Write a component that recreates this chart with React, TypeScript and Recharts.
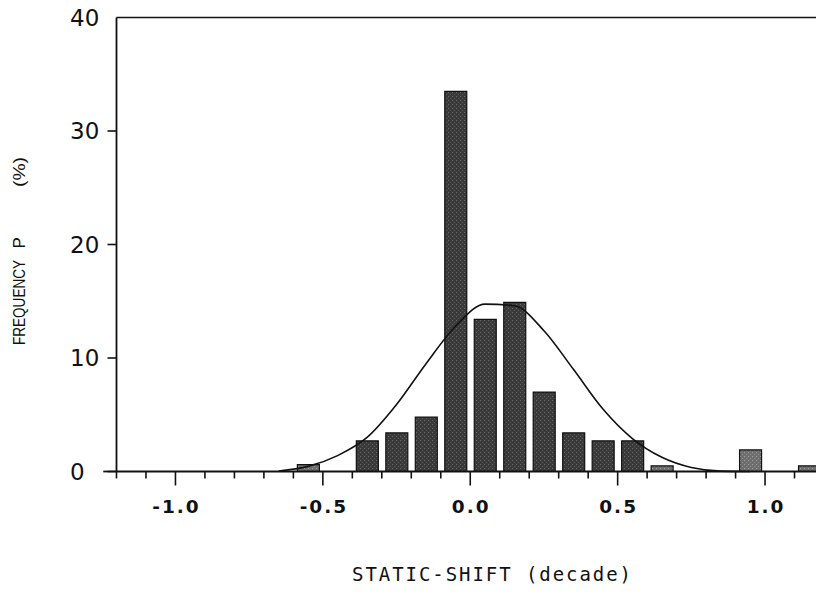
import React from 'react';
import {
  ComposedChart,
  Bar,
  Line,
  XAxis,
  YAxis,
  ReferenceLine,
  Cell,
  Customized,
} from 'recharts';

// bin centres (decade) and measured frequency P (%)
const binCenters = [
  -0.65, -0.55, -0.45, -0.35, -0.25, -0.15, -0.05, 0.05, 0.15, 0.25,
  0.35, 0.45, 0.55, 0.65, 0.75, 0.85, 0.95, 1.05, 1.15,
];
const frequency = [
  null, 0.6, null, 2.7, 3.4, 4.8, 33.5, 13.4, 14.9, 7.0,
  3.4, 2.7, 2.7, 0.5, null, null, 1.9, null, 0.5,
];
// fitted normal curve at the same x positions
const fittedCurve = [
  0.05, 0.45, 1.4, 3.0, 5.9, 9.5, 12.8, 14.75, 14.6, 12.4,
  9.0, 5.5, 2.9, 1.25, 0.35, 0.03, 0, null, null,
];

const xTicks = [
  -1.2, -1.1, -1.0, -0.9, -0.8, -0.7, -0.6, -0.5, -0.4, -0.3, -0.2, -0.1,
  0.0, 0.1, 0.2, 0.3, 0.4, 0.5, 0.6, 0.7, 0.8, 0.9, 1.0, 1.1, 1.2,
];
const xMajorTicks = [-1.0, -0.5, 0.0, 0.5, 1.0];
const xMajorLabels = ['-1.0', '-0.5', '0.0', '0.5', '1.0'];
const yTicks = [0, 10, 20, 30, 40];

const data = binCenters.map((x, i) => ({
  x,
  freq: frequency[i],
  fit: fittedCurve[i],
}));

const PLOT_LEFT = 116.5;
const INK = '#111';

const XTick = (props: any) => {
  const { x, y, payload } = props;
  const idx = xMajorTicks.findIndex((m) => Math.abs(m - payload.value) < 1e-6);
  const major = idx >= 0;
  return (
    <g>
      <line x1={x} x2={x} y1={y} y2={y + (major ? 14 : 7)} stroke={INK} strokeWidth={1.6} />
      {major && (
        <text
          x={x + 1}
          y={y + 41.5}
          textAnchor="middle"
          fontFamily="DejaVu Sans"
          fontWeight="bold"
          fontSize={18.5}
          letterSpacing={2}
          fill={INK}
        >
          {xMajorLabels[idx]}
        </text>
      )}
    </g>
  );
};

const YTick = (props: any) => {
  const { y, payload } = props;
  return (
    <g>
      {payload.value !== 40 && (
        <line x1={PLOT_LEFT - 9} x2={PLOT_LEFT} y1={y} y2={y} stroke={INK} strokeWidth={1.6} />
      )}
      <text
        x={70}
        y={y}
        dy="0.36em"
        textAnchor="start"
        fontFamily="DejaVu Sans"
        fontSize={23}
        fill={INK}
      >
        {payload.value}
      </text>
    </g>
  );
};

const Titles = () => (
  <g fill={INK}>
    <text
      x={352}
      y={581}
      fontFamily="DejaVu Sans Mono"
      fontSize={19}
      textLength={279}
      lengthAdjust="spacing"
    >
      STATIC-SHIFT (decade)
    </text>
    <g transform="rotate(-90)" fontFamily="Liberation Sans" fontSize={17}>
      <text x={-345} y={25} textLength={85} lengthAdjust="spacingAndGlyphs">FREQUENCY</text>
      <text x={-248.5} y={25}>P</text>
      <text x={-187} y={25} textLength={30} lengthAdjust="spacingAndGlyphs">(%)</text>
    </g>
  </g>
);

export default function App() {
  return (
    <div
      style={{
        position: 'absolute',
        left: 0,
        top: 0,
        width: 816,
        height: 595,
        overflow: 'hidden',
        background: '#fff',
      }}
    >
      <ComposedChart
        width={832}
        height={595}
        data={data}
        margin={{ top: 17.5, right: 8, left: 56.5, bottom: 83.5 }}
      >
        <defs>
          <pattern id="stipDark" width="4" height="4" patternUnits="userSpaceOnUse">
            <rect width="4" height="4" fill="#3a3a3a" />
            <rect x="0" y="0" width="1" height="1" fill="#6a6a6a" />
            <rect x="2" y="2" width="1" height="1" fill="#5a5a5a" />
          </pattern>
          <pattern id="stipLight" width="4" height="4" patternUnits="userSpaceOnUse">
            <rect width="4" height="4" fill="#6e6e6e" />
            <rect x="0" y="0" width="1" height="1" fill="#a0a0a0" />
            <rect x="2" y="2" width="1" height="1" fill="#909090" />
          </pattern>
        </defs>
        <XAxis
          type="number"
          dataKey="x"
          domain={[-1.2, 1.2]}
          ticks={xTicks}
          interval={0}
          allowDataOverflow
          height={40}
          tickSize={0}
          tickMargin={0}
          tickLine={false}
          axisLine={{ stroke: INK, strokeWidth: 1.8 }}
          tick={<XTick />}
        />
        <YAxis
          type="number"
          domain={[0, 40]}
          ticks={yTicks}
          interval={0}
          width={60}
          tickLine={false}
          axisLine={{ stroke: INK, strokeWidth: 1.8 }}
          tick={<YTick />}
        />
        <ReferenceLine y={40} stroke={INK} strokeWidth={1.6} />
        <ReferenceLine
          segment={[{ x: -1.245, y: 0 }, { x: -1.2, y: 0 }]}
          stroke={INK}
          strokeWidth={1.8}
          ifOverflow="visible"
        />
        <Bar dataKey="freq" barSize={22} stroke={INK} strokeWidth={1.2} isAnimationActive={false}>
          {data.map((d, i) => (
            <Cell
              key={`bar-${i}`}
              fill={d.freq != null && d.freq < 2.5 ? 'url(#stipLight)' : 'url(#stipDark)'}
            />
          ))}
        </Bar>
        <Line
          dataKey="fit"
          type="monotone"
          stroke={INK}
          strokeWidth={1.6}
          dot={false}
          connectNulls
          isAnimationActive={false}
        />
        <Customized component={Titles} />
      </ComposedChart>
    </div>
  );
}
